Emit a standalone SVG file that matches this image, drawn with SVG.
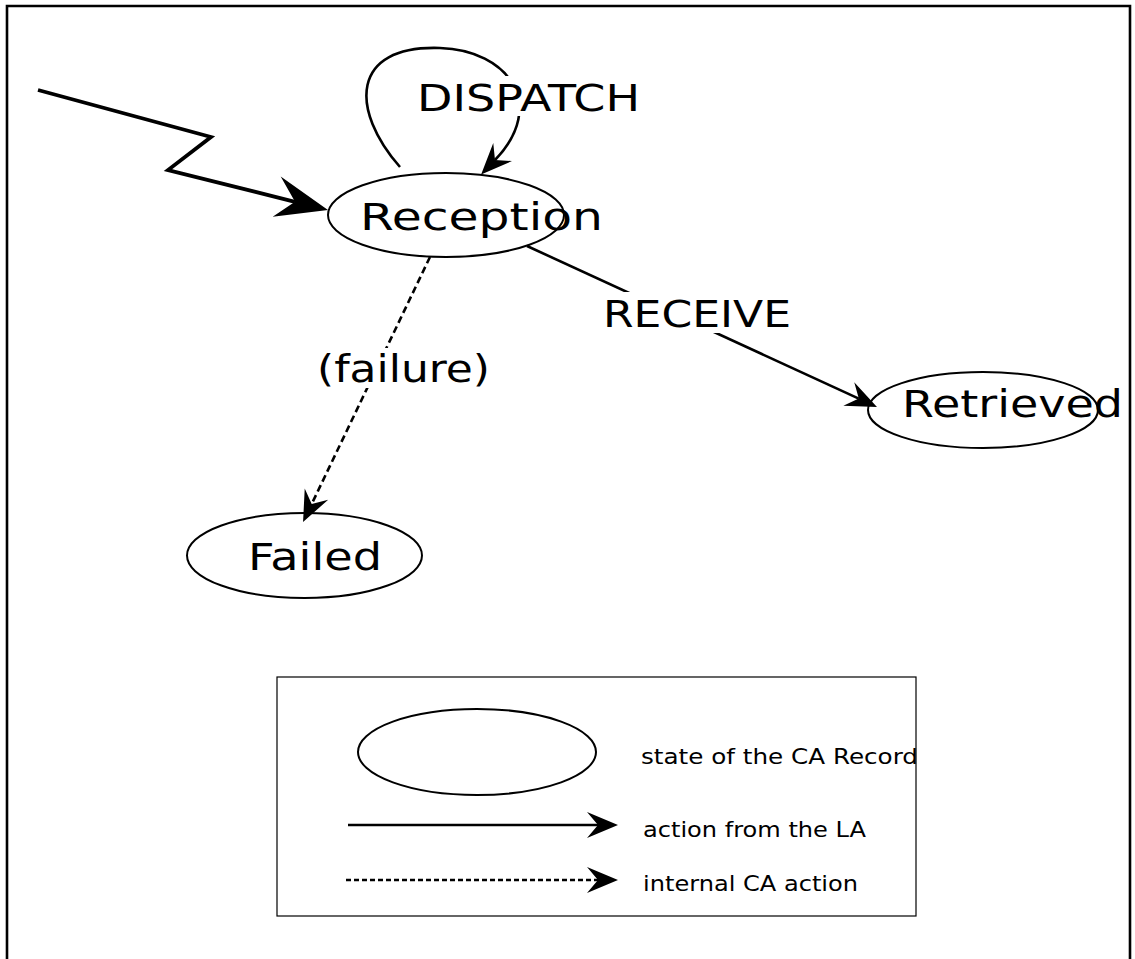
<svg xmlns="http://www.w3.org/2000/svg" width="1135" height="959" viewBox="0 0 1135 959">
  <style>
    .state { fill: none; stroke: #000; stroke-width: 2; }
    .lbl { font-family: "DejaVu Sans", "Liberation Sans", sans-serif; font-size: 37px; fill: #000; }
    .leg { font-family: "DejaVu Sans", "Liberation Sans", sans-serif; font-size: 21px; fill: #000; }
    .edge { fill: none; stroke: #000; stroke-width: 2.6; }
    .bold { stroke-width: 3.8; }
    .dashed { stroke-dasharray: 7 4; }
    .fine-dash { stroke-dasharray: 5 3; }
    .mask { fill: #fff; stroke: none; }
  </style>
  <defs>
    <marker id="bigHead" markerUnits="userSpaceOnUse" orient="auto" refX="0" refY="0" markerWidth="80" markerHeight="60" viewBox="-30 -30 80 60" overflow="visible">
      <path d="M34,0 L-20,-21 L0,0 L-18,20 Z" fill="#000"/>
    </marker>
    <marker id="head" markerUnits="userSpaceOnUse" orient="auto" refX="0" refY="0" markerWidth="50" markerHeight="40" viewBox="-20 -20 50 40" overflow="visible">
      <path d="M20,0 L-11,-13 L0,0 L-11,13 Z" fill="#000"/>
    </marker>
  </defs>

  <rect width="1135" height="959" fill="#fff"/>
  <!-- page frame (open at the bottom) -->
  <path d="M7,962 V6 H1130 V962" fill="none" stroke="#000" stroke-width="2.6"/>

  <g id="connectors">
    <!-- initial transition (lightning arrow) -->
    <polyline points="38,90 211,137 168,170 295,201.8" class="edge bold" marker-end="url(#bigHead)"/>
    <!-- DISPATCH self loop -->
    <path d="M400,167 C350,110 350,45 440,48 C508,50 548,105 495,160" class="edge" marker-end="url(#head)"/>
    <!-- RECEIVE -->
    <line x1="527" y1="246" x2="858.8" y2="398.6" class="edge" marker-end="url(#head)"/>
    <!-- failure (internal) -->
    <line x1="430" y1="257" x2="311.7" y2="504" class="edge dashed" marker-end="url(#head)"/>
  </g>

  <g id="edge-labels">
    <rect x="415" y="76" width="228" height="40" class="mask"/>
    <text x="417" y="111" class="lbl" textLength="223" lengthAdjust="spacingAndGlyphs">DISPATCH</text>
    <rect x="600" y="292" width="195" height="41" class="mask"/>
    <text x="603" y="327" class="lbl" textLength="188" lengthAdjust="spacingAndGlyphs">RECEIVE</text>
    <rect x="314" y="348" width="179" height="40" class="mask"/>
    <text x="317" y="382" class="lbl" textLength="173" lengthAdjust="spacingAndGlyphs">(failure)</text>
  </g>

  <g id="reception">
    <ellipse cx="446" cy="215" rx="118" ry="42" class="state"/>
    <text x="360" y="230" class="lbl" textLength="243" lengthAdjust="spacingAndGlyphs">Reception</text>
  </g>

  <g id="retrieved">
    <ellipse cx="983" cy="410" rx="115" ry="38" class="state"/>
    <text x="902" y="417" class="lbl" textLength="221" lengthAdjust="spacingAndGlyphs">Retrieved</text>
  </g>

  <g id="failed">
    <ellipse cx="304.5" cy="555.5" rx="117.5" ry="42.5" class="state"/>
    <text x="248" y="570" class="lbl" textLength="134" lengthAdjust="spacingAndGlyphs">Failed</text>
  </g>

  <g id="legend">
    <rect x="277" y="677" width="639" height="239" fill="none" stroke="#000" stroke-width="1.2"/>
    <ellipse cx="477" cy="752" rx="119" ry="43" class="state"/>
    <text x="641" y="764" class="leg" textLength="277" lengthAdjust="spacingAndGlyphs">state of the CA Record</text>
    <line x1="348" y1="825" x2="598" y2="825" class="edge" marker-end="url(#head)"/>
    <text x="643" y="837" class="leg" textLength="223" lengthAdjust="spacingAndGlyphs">action from the LA</text>
    <line x1="346" y1="880" x2="598" y2="880" class="edge fine-dash" marker-end="url(#head)"/>
    <text x="643" y="891" class="leg" textLength="215" lengthAdjust="spacingAndGlyphs">internal CA action</text>
  </g>
</svg>
